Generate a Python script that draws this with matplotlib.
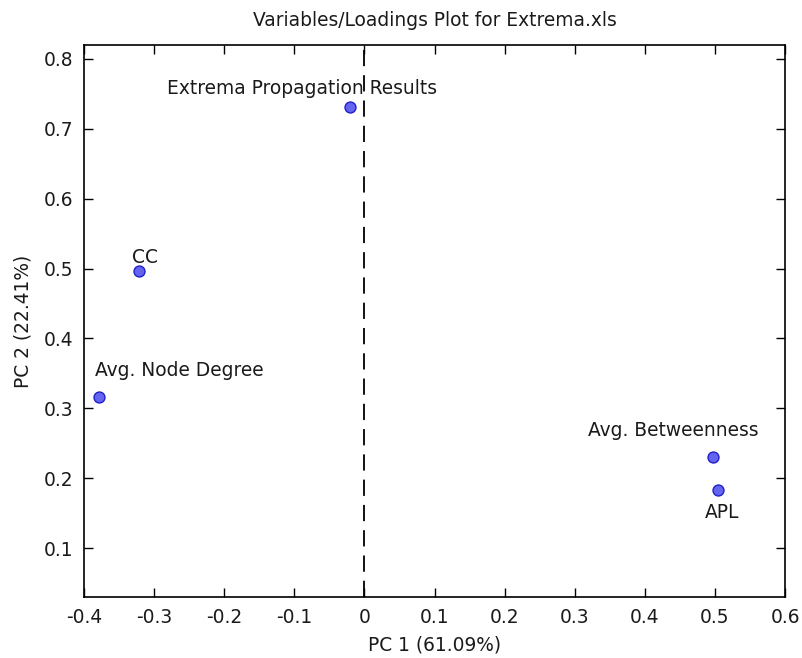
import matplotlib
matplotlib.use("Agg")
import matplotlib.pyplot as plt

# Data
labels = ["Extrema Propagation Results", "CC", "Avg. Node Degree", "Avg. Betweenness", "APL"]
pc1 = [-0.021, -0.321, -0.379, 0.497, 0.505]
pc2 = [0.731, 0.497, 0.316, 0.231, 0.184]
xticks = [-0.4, -0.3, -0.2, -0.1, 0, 0.1, 0.2, 0.3, 0.4, 0.5, 0.6]
yticks = [0.1, 0.2, 0.3, 0.4, 0.5, 0.6, 0.7, 0.8]
xticklabels = ["-0.4", "-0.3", "-0.2", "-0.1", "0", "0.1", "0.2", "0.3", "0.4", "0.5", "0.6"]
yticklabels = ["0.1", "0.2", "0.3", "0.4", "0.5", "0.6", "0.7", "0.8"]

# label placement (pixel offsets, alignment)
label_offsets = [(-183, 13), (-7, 8), (-4, 21), (46, 21), (4, -28)]
label_ha = ["left", "left", "left", "right", "center"]

plt.rcParams['font.family'] = ['DejaVu Sans']
FS = 13.4

fig = plt.figure(figsize=(8.02, 6.58), dpi=100)
ax = fig.add_axes([84/802, 1-597/658, (785-84)/802, (597-45)/658])

ax.axvline(0, color='black', linestyle=(0, (9, 5)), linewidth=1.3, zorder=1)
ax.scatter(pc1, pc2, s=62, facecolor='#6464f0', edgecolor='#2020c8', linewidth=1.0, zorder=3)

for lab, x, y, off, ha in zip(labels, pc1, pc2, label_offsets, label_ha):
    ax.annotate(lab, (x, y), xytext=off, textcoords='offset pixels',
                ha=ha, va='baseline', fontsize=FS, color='#1a1a1a')

ax.set_xlim(-0.4, 0.6)
ax.set_ylim(0.0305, 0.8195)
ax.set_xticks(xticks)
ax.set_xticklabels(xticklabels)
ax.set_yticks(yticks)
ax.set_yticklabels(yticklabels)
ax.tick_params(direction='in', length=6.3, width=1.0, top=True, right=True,
               labelsize=FS, pad=8, colors='black', labelcolor='#1a1a1a')
for sp in ax.spines.values():
    sp.set_linewidth(1.2)

ax.set_xlabel("PC 1 (61.09%)", fontsize=FS, labelpad=6, color='#1a1a1a')
ax.set_ylabel("PC 2 (22.41%)", fontsize=FS, labelpad=8, color='#1a1a1a')
ax.set_title("Variables/Loadings Plot for Extrema.xls", fontsize=FS, pad=14, color='#1a1a1a')

fig.savefig("out.png", dpi=100)
